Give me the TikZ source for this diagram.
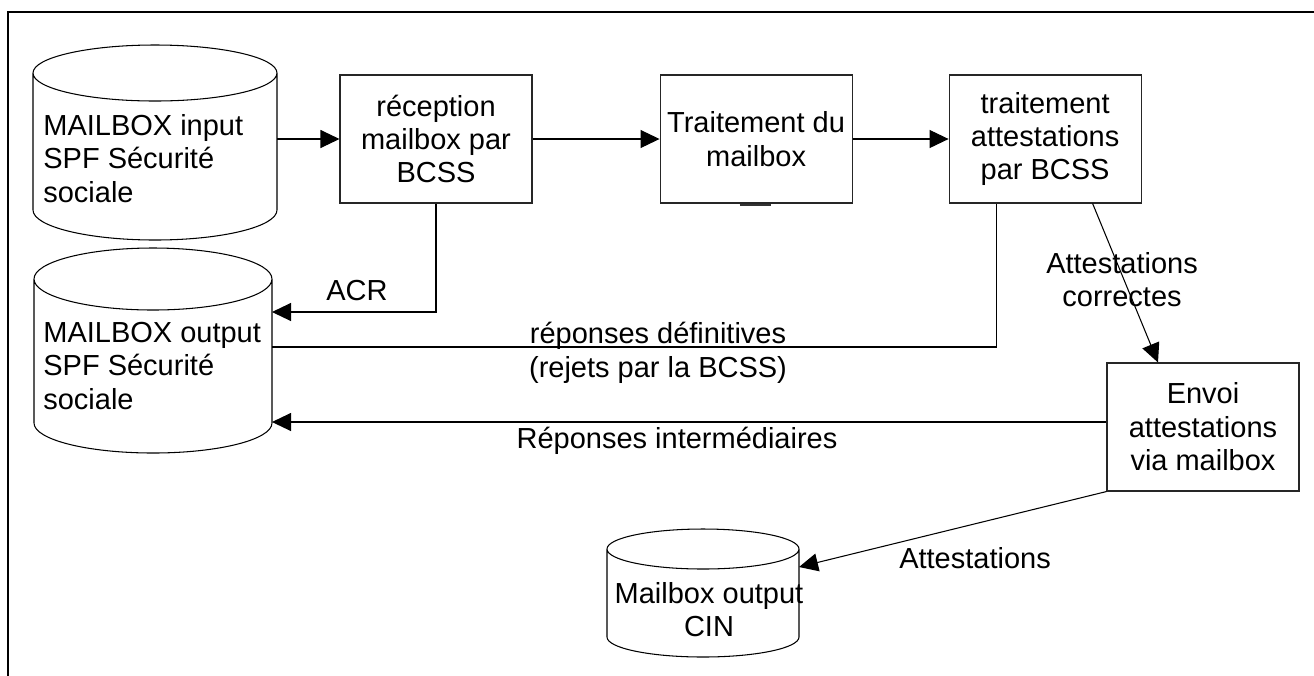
\documentclass[tikz,border=0pt]{standalone}
\usepackage{fontspec}
\setmainfont{Liberation Sans}
\usetikzlibrary{arrows.meta,positioning}
\tikzset{
  every node/.style={
    font=\fontsize{16.5}{19}\selectfont
  },
  process/.style={
    shape=rectangle,
    draw=black!85,
    line width=0.6pt,
    minimum width=3.84cm,
    minimum height=2.56cm,
    align=center,
    inner sep=0pt
  },
  mailbox/.style={
    shape=rectangle,
    inner sep=0pt,
    outer sep=0pt
  },
  mailbox border/.style={
    draw=black,
    line width=0.6pt
  },
  mailbox text/.style={
    inner sep=0pt,
    align=left
  },
  flow label/.style={
    inner sep=0pt,
    align=center
  },
  flow/.style={
    line width=0.6pt,
    -{Triangle[length=0.38cm,width=0.36cm]}
  }
}

\begin{document}
\begin{tikzpicture}
\useasboundingbox (0,0) rectangle (26.28,-13.5);

% cadre
\draw [line width=1.4pt] (26.6,-0.24) -- (0.16,-0.24) -- (0.16,-13.8);

% mailboxes
\node [mailbox, minimum width=4.88cm, minimum height=3.9cm] (in1) at (3.10,-2.85) {};
\draw [mailbox border] ([yshift=-0.56cm]in1.north west) -- ([yshift=0.6cm]in1.south west)
  arc [start angle=180, end angle=360, x radius=2.44cm, y radius=0.6cm]
  -- ([yshift=-0.56cm]in1.north east)
  arc [start angle=0, end angle=360, x radius=2.44cm, y radius=0.56cm];
\node [mailbox text, anchor=north west] (in1txt) at (0.86,-2.28)
  {MAILBOX input\\SPF Sécurité\\sociale};

\node [mailbox, minimum width=4.76cm, minimum height=4.1cm] (out1) at (3.06,-7.01) {};
\draw [mailbox border] ([yshift=-0.62cm]out1.north west) -- ([yshift=0.6cm]out1.south west)
  arc [start angle=180, end angle=360, x radius=2.38cm, y radius=0.6cm]
  -- ([yshift=-0.62cm]out1.north east)
  arc [start angle=0, end angle=360, x radius=2.38cm, y radius=0.62cm];
\node [mailbox text, anchor=north west] (out1txt) at (0.86,-6.44)
  {MAILBOX output\\SPF Sécurité\\sociale};

\node [mailbox, minimum width=3.84cm, minimum height=2.56cm] (cin) at (14.06,-11.86) {};
\draw [mailbox border] ([yshift=-0.4cm]cin.north west) -- ([yshift=0.4cm]cin.south west)
  arc [start angle=180, end angle=360, x radius=1.92cm, y radius=0.4cm]
  -- ([yshift=-0.4cm]cin.north east)
  arc [start angle=0, end angle=360, x radius=1.92cm, y radius=0.4cm];
\node [flow label, anchor=north] (cintxt) at (14.18,-11.64)
  {Mailbox output\\CIN};

% traitements
\node [process] (rec) at (8.72,-2.78) {réception\\mailbox par\\BCSS};
\node [process, right=2.54cm of rec] (trt) {Traitement du\\mailbox};
\node [process, right=1.92cm of trt] (att) {traitement\\attestations\\par BCSS};
\node [process] (env) at (24.06,-8.54) {Envoi\\attestations\\via mailbox};
\draw [line width=1.1pt, black!80] ([xshift=-0.33cm,yshift=-0.03cm]trt.south) -- ([xshift=0.29cm,yshift=-0.03cm]trt.south);

% flux
\coordinate (acr) at ([yshift=0.77cm]out1.east);
\coordinate (def) at ([yshift=0.07cm]out1.east);
\coordinate (rint) at ([yshift=0.1cm]env.west);
\draw [flow] (rec.west -| in1.east) -- (rec.west);
\draw [flow] (rec.east) -- (trt.west);
\draw [flow] (trt.east) -- (att.west);
\draw [flow] (rec.south) |- (acr);
\draw [line width=0.6pt] (def) -| ([xshift=-0.97cm]att.south);
\draw [flow] ([xshift=0.95cm]att.south) -- ([xshift=-0.9cm]env.north);
\draw [flow] (rint) -- (rint -| out1.east);
\draw [flow] (env.south west) -- ([yshift=0.52cm]cin.east);

% etiquettes
\node [flow label, anchor=base] (acrlbl) at (7.14,-6.0) {ACR};
\node [flow label, anchor=north] (deflbl) at (13.16,-6.44)
  {réponses définitives\\(rejets par la BCSS)};
\node [flow label, anchor=base] (rintlbl) at (13.54,-8.96) {Réponses intermédiaires};
\node [flow label, anchor=north] (oklbl) at (22.44,-5.04) {Attestations\\correctes};
\node [flow label, anchor=base] (cinlbl) at (19.5,-11.36) {Attestations};

\end{tikzpicture}
\end{document}
